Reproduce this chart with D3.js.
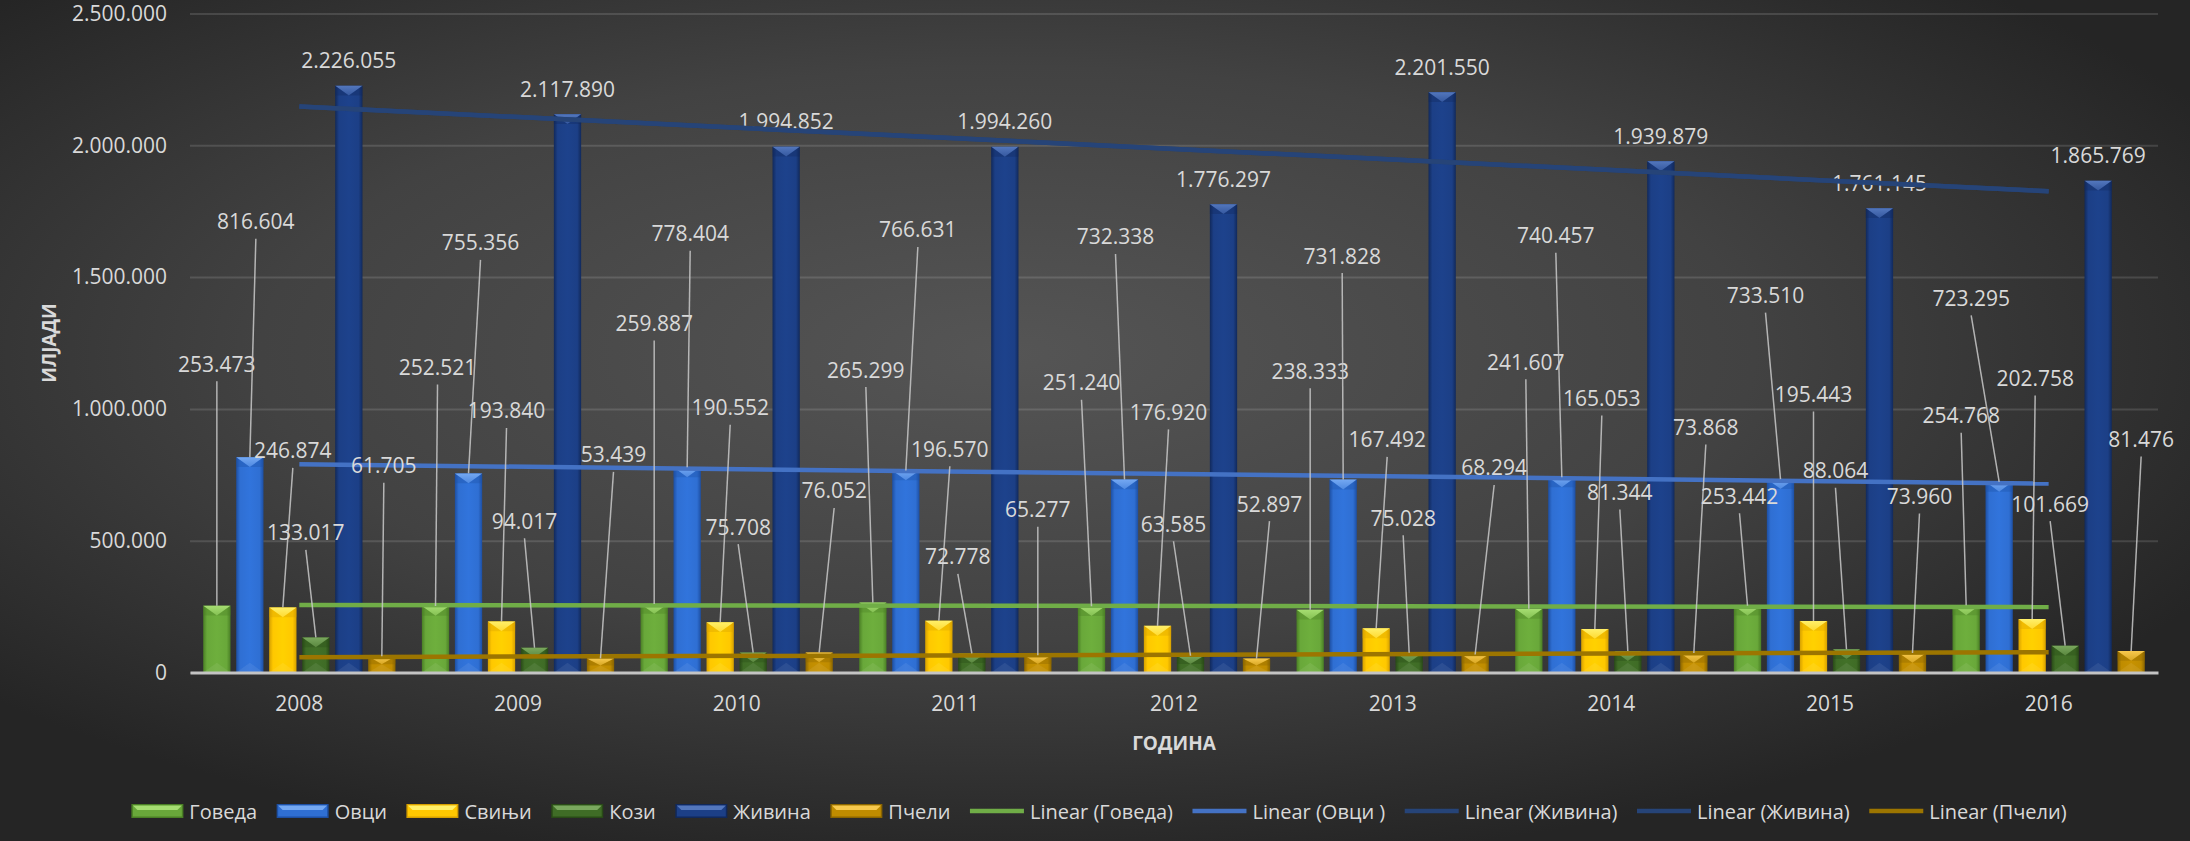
<!DOCTYPE html>
<html><head><meta charset="utf-8">
<script src="https://cdnjs.cloudflare.com/ajax/libs/d3/7.8.5/d3.min.js"></script>
<style>
html,body{margin:0;padding:0;background:#2b2b2b;}
svg{display:block;}
text{font-family:"Open Sans",sans-serif;}
</style></head><body>
<svg id="chart" width="2190" height="841"></svg>
<script>
// ---------- DATA ----------
const years = ['2008','2009','2010','2011','2012','2013','2014','2015','2016'];
const seriesNames = ['Говеда','Овци','Свињи','Кози','Живина','Пчели'];
const goveda  = [253473,252521,259887,265299,251240,238333,241607,253442,254768];
const ovci    = [816604,755356,778404,766631,732338,731828,740457,733510,723295];
const svinji  = [246874,193840,190552,196570,176920,167492,165053,195443,202758];
const kozi    = [133017,94017,75708,72778,63585,75028,81344,88064,101669];
const zhivina = [2226055,2117890,1994852,1994260,1776297,2201550,1939879,1761145,1865769];
const pcheli  = [61705,53439,76052,65277,52897,68294,73868,73960,81476];
const yTicks  = [0,500000,1000000,1500000,2000000,2500000];
const trendOf     = ['Говеда','Овци','Живина','Живина','Пчели'];
const trendLegend = ['Linear (Говеда)','Linear (Овци )','Linear (Живина)','Linear (Живина)','Linear (Пчели)'];
const yTitle = 'ИЛЈАДИ';
const xTitle = 'ГОДИНА';

// manual data-label placement (px offset from bar top centre); null = outside end
const lblGoveda = [[0,-242],[2,-239],[0,-281],[-7,-233],[-10,-224],[0,-239],[-3,-247],[-8,-110],[-5,-190]];
const lblOvci   = [[6,-236],[12,-231],[3,-234],[12,-241],[-9,-243],[-1,-224],[-6,-242],[-15,-184],[-28,-184]];
const lblSvinji = [[10,-157],[5,-211],[10,-215],[11,-172],[11,-214],[11,-189],[7,-231],[0,-227],[3,-241]];
const lblKozi   = [[-10,-105],[-10,-127],[-15,-126],[-14,-97],[-17,-132],[-6,-135],[-8,-159],[-11,-179],[-15,-142]];
const lblPcheli = [[2,-191],[13,-204],[15,-162],[0,-146],[13,-155],[19,-187],[12,-226],[7,-157],[10,-212]];

// ---------- STYLE ----------
const seriesValues = [goveda, ovci, svinji, kozi, zhivina, pcheli];
const seriesLabels = [lblGoveda, lblOvci, lblSvinji, lblKozi, null, lblPcheli];
const barBase  = ['#69a83a','#2f6fd3','#ffc800','#3f6c26','#1c3f86','#bf8c00'];
const barLight = ['#a6de72','#74a8f2','#fff06a','#7aa85e','#5377bd','#f7c94e'];
const barDark  = ['#4a7f25','#1d4fa3','#d6a000','#294a17','#11295b','#8a6500'];
const trendColors = {'Говеда':'#70ad47','Овци':'#4472c4','Живина':'#264478','Пчели':'#9c7500'};
const textCol = '#d9d9d9';

const W = 2190, H = 841;
const svg = d3.select('#chart');
const defs = svg.append('defs');

const bg = defs.append('radialGradient').attr('id','bg').attr('cx','0.46').attr('cy','0.42').attr('r','0.62');
bg.append('stop').attr('offset','0').attr('stop-color','#555555');
bg.append('stop').attr('offset','0.55').attr('stop-color','#424242');
bg.append('stop').attr('offset','1').attr('stop-color','#252525');
svg.append('rect').attr('width',W).attr('height',H).attr('fill','url(#bg)');

seriesNames.forEach((s,j)=>{
  const g = defs.append('linearGradient').attr('id','bar'+j).attr('x1','0').attr('x2','1').attr('y1','0').attr('y2','0');
  [[0,barDark[j]],[0.14,barBase[j]],[0.5,d3.color(barBase[j]).brighter(0.12)],[0.86,barBase[j]],[1,barDark[j]]]
    .forEach(([o,c])=>g.append('stop').attr('offset',o).attr('stop-color',c));
  const t = defs.append('linearGradient').attr('id','top'+j).attr('x1','0').attr('x2','0').attr('y1','0').attr('y2','1');
  t.append('stop').attr('offset',0).attr('stop-color',barLight[j]);
  t.append('stop').attr('offset',1).attr('stop-color',d3.interpolateRgb(barLight[j],barBase[j])(0.55));
});

// ---------- SCALES ----------
const plotL = 190, plotR = 2158, y0px = 672.5, yTop = 13.5;
const x0 = d3.scaleBand().domain(years).range([plotL, plotR]).paddingInner(0.1207).paddingOuter(0.0604);
const x1 = d3.scaleBand().domain(seriesNames).range([0, x0.bandwidth()]).paddingInner(0.1727).paddingOuter(0);
const y = d3.scaleLinear().domain([0, 2500000]).range([y0px, yTop]);
const loc = d3.formatLocale({decimal:',', thousands:'.', grouping:[3], currency:['','']});
const fmt = loc.format(',d');

// ---------- GRID + Y AXIS ----------
const yAx = svg.append('g').attr('transform',`translate(${plotL},0)`)
  .call(d3.axisLeft(y).tickValues(yTicks).tickSize(-(plotR-plotL)).tickPadding(23).tickFormat(fmt));
yAx.select('.domain').remove();
yAx.selectAll('.tick line').attr('stroke','rgba(255,255,255,0.13)').attr('stroke-width',2);
yAx.selectAll('.tick text').attr('fill',textCol).attr('font-size',21).attr('font-family','"Open Sans",sans-serif');

// ---------- BARS ----------
const barsG = svg.append('g');
years.forEach((yr,i)=>{
  seriesNames.forEach((s,j)=>{
    const v = seriesValues[j][i];
    const x = x0(yr) + x1(s), w = x1.bandwidth();
    const yt = y(v), h = y(0) - yt;
    const bv = Math.min(w*0.36, h*0.5);
    const g = barsG.append('g');
    g.append('rect').attr('x',x).attr('y',yt).attr('width',w).attr('height',h).attr('fill',`url(#bar${j})`);
    g.append('polygon').attr('points',`${x},${yt} ${x+w},${yt} ${x+w/2},${yt+bv}`).attr('fill',`url(#top${j})`);
    g.append('polygon').attr('points',`${x},${yt} ${x+w/2},${yt+bv} ${x},${yt+bv}`).attr('fill',barDark[j]).attr('opacity',0.35);
    g.append('polygon').attr('points',`${x+w},${yt} ${x+w/2},${yt+bv} ${x+w},${yt+bv}`).attr('fill',barDark[j]).attr('opacity',0.35);
    g.append('polygon').attr('points',`${x},${y(0)} ${x+w},${y(0)} ${x+w/2},${y(0)-bv}`).attr('fill','#ffffff').attr('opacity',0.07);
  });
});

// ---------- X AXIS ----------
const xAx = svg.append('g').attr('transform',`translate(0,${y0px})`)
  .call(d3.axisBottom(x0).tickSize(0).tickPadding(24));
xAx.select('.domain').attr('stroke','#c4c4c4').attr('stroke-width',3);
xAx.selectAll('.tick text').attr('fill',textCol).attr('font-size',21).attr('font-family','"Open Sans",sans-serif');

// ---------- TRENDLINES ----------
function regress(vals){
  const n = vals.length, mx = (n-1)/2, my = d3.mean(vals);
  let sxy=0, sxx=0;
  vals.forEach((v,i)=>{sxy+=(i-mx)*(v-my); sxx+=(i-mx)*(i-mx);});
  const b = sxy/sxx, a = my - b*mx;
  return [a, a + b*(n-1)];
}
const cx = yr => x0(yr) + x0.bandwidth()/2;
function drawTrend(g, name){
  const vals = seriesValues[seriesNames.indexOf(name)];
  const [a0,a1] = regress(vals);
  g.append('line').attr('x1',cx(years[0])).attr('x2',cx(years[years.length-1]))
    .attr('y1',y(a0)).attr('y2',y(a1)).attr('stroke',trendColors[name]).attr('stroke-width',4.5);
}
const trendLow = svg.append('g');
trendOf.forEach(n=>{ if(n!=='Живина') drawTrend(trendLow,n); });

// ---------- DATA LABELS ----------
const lblG = svg.append('g');
years.forEach((yr,i)=>{
  seriesNames.forEach((s,j)=>{
    const v = seriesValues[j][i];
    const bx = x0(yr) + x1(s) + x1.bandwidth()/2, by = y(v);
    const off = seriesLabels[j] ? seriesLabels[j][i] : [0,-25.5];
    const lx = bx + off[0], ly = by + off[1];
    if (seriesLabels[j]) {
      lblG.append('line').attr('x1',lx).attr('y1',ly+17.5).attr('x2',bx).attr('y2',by)
        .attr('stroke','#c9c9c9').attr('stroke-width',1.5).attr('opacity',0.85);
    }
    lblG.append('text').attr('x',lx).attr('y',ly).attr('text-anchor','middle').attr('dominant-baseline','central')
      .attr('fill',textCol).attr('font-size',21).text(fmt(v));
  });
});

const trendHigh = svg.append('g');
trendOf.forEach(n=>{ if(n==='Живина') drawTrend(trendHigh,n); });

// ---------- AXIS TITLES ----------
svg.append('text').attr('transform',`translate(48.5,${(y0px+yTop)/2}) rotate(-90)`)
  .attr('text-anchor','middle').attr('dominant-baseline','central').attr('font-weight','bold')
  .attr('font-size',19).attr('fill',textCol).text(yTitle);
svg.append('text').attr('x',(plotL+plotR)/2).attr('y',742.5)
  .attr('text-anchor','middle').attr('dominant-baseline','central').attr('font-weight','bold')
  .attr('font-size',19).attr('fill',textCol).text(xTitle);

// ---------- LEGEND ----------
const legItems = seriesNames.map((s,j)=>({type:'bar',j,label:s}))
  .concat(trendLegend.map((l,k)=>({type:'line',color:trendColors[trendOf[k]],label:l})));
const leg = svg.append('g');
const legY = 811, sw = 52, gapT = 6, gapI = 19.5;
let cur = 0;
const nodes = legItems.map(it=>{
  const g = leg.append('g');
  if (it.type==='bar'){
    g.append('rect').attr('x',0).attr('y',legY-7).attr('width',sw).attr('height',14).attr('fill',barDark[it.j]);
    g.append('rect').attr('x',1.5).attr('y',legY-5.5).attr('width',sw-3).attr('height',11).attr('fill',barBase[it.j]);
    g.append('polygon').attr('points',`1.5,${legY-5.5} ${sw-1.5},${legY-5.5} ${sw-6},${legY-1} 6,${legY-1}`).attr('fill',barLight[it.j]);
  } else {
    g.append('line').attr('x1',0).attr('x2',sw+2).attr('y1',legY).attr('y2',legY).attr('stroke',it.color).attr('stroke-width',4.5);
  }
  const t = g.append('text').attr('x',(it.type==='bar'?sw:sw+2)+gapT).attr('y',legY).attr('dominant-baseline','central')
    .attr('fill',textCol).attr('font-size',20).text(it.label);
  const wItem = (it.type==='bar'?sw:sw+2)+gapT+t.node().getComputedTextLength();
  return {g,wItem};
});
const total = d3.sum(nodes,d=>d.wItem) + gapI*(nodes.length-1);
let xs = 1099 - total/2;
nodes.forEach(n=>{ n.g.attr('transform',`translate(${xs},0)`); xs += n.wItem + gapI; });
</script>
</body></html>
